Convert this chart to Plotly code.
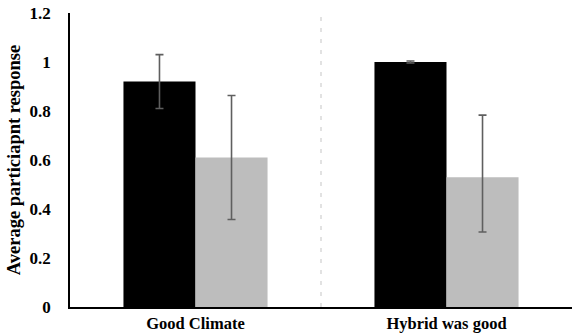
import plotly.graph_objects as go

categories = ["Good Climate", "Hybrid was good"]
series_a = [0.92, 1.0]
series_a_err_plus = [0.11, 0.004]
series_a_err_minus = [0.11, 0.004]
series_b = [0.61, 0.53]
series_b_err_plus = [0.253, 0.253]
series_b_err_minus = [0.253, 0.224]
y_ticks = [0, 0.2, 0.4, 0.6, 0.8, 1, 1.2]
y_tick_labels = ["0", "0.2", "0.4", "0.6", "0.8", "1", "1.2"]

serif = "Liberation Serif"
err_style = dict(type="data", symmetric=False, thickness=1.6, width=4, color="#5f5f5f")

fig = go.Figure()
fig.add_trace(go.Bar(
    x=categories, y=series_a, marker=dict(color="#000000", line=dict(width=0)),
    error_y=dict(array=series_a_err_plus, arrayminus=series_a_err_minus, **err_style),
    showlegend=False,
))
fig.add_trace(go.Bar(
    x=categories, y=series_b, marker=dict(color="#bdbdbd", line=dict(width=0)),
    error_y=dict(array=series_b_err_plus, arrayminus=series_b_err_minus, **err_style),
    showlegend=False,
))

# dashed divider between the two groups
fig.add_shape(
    type="line", xref="x", yref="paper", x0=0.5, x1=0.5, y0=0, y1=1,
    line=dict(color="#cfcfcf", width=1.2, dash="4px,7px"),
)

fig.update_layout(
    width=574, height=335,
    margin=dict(l=70, r=2, t=13, b=28),
    paper_bgcolor="white", plot_bgcolor="white",
    barmode="group", bargap=0.426, bargroupgap=0,
    font=dict(family=serif, color="#000000"),
)
fig.update_xaxes(
    showline=True, linecolor="#000000", linewidth=1.5,
    showgrid=False, ticks="",
    tickfont=dict(family=serif, size=16.5, weight="bold"),
)
fig.update_yaxes(
    range=[0, 1.2], tickvals=y_ticks, ticktext=y_tick_labels,
    showline=True, linecolor="#000000", linewidth=1.5,
    showgrid=False, zeroline=False, ticks="",
    ticklabelstandoff=14,
    tickfont=dict(family=serif, size=17, weight="bold"),
    title=dict(text="Average particiapnt response", standoff=4,
               font=dict(family=serif, size=18.5, weight="bold")),
)

fig.write_html("out.html")
